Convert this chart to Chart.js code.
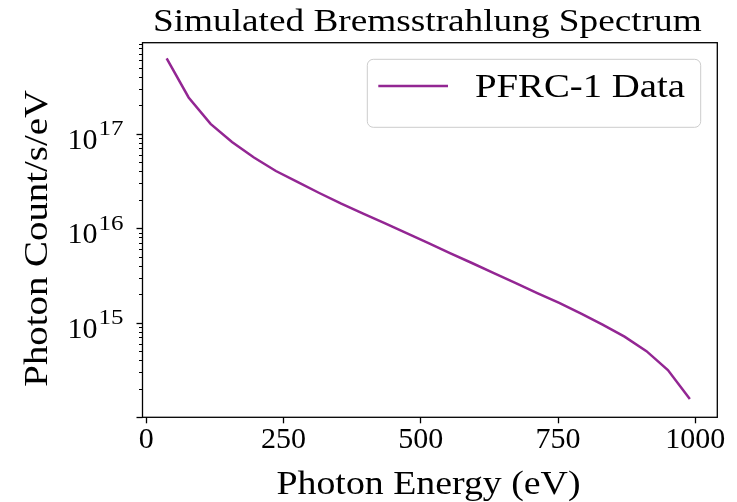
<!DOCTYPE html>
<html><head><meta charset="utf-8">
<script src="https://cdn.jsdelivr.net/npm/chart.js@4.4.0/dist/chart.umd.min.js"></script>
<style>html,body{margin:0;padding:0;background:#fff;overflow:hidden}#wrap{width:737px;height:502px}</style>
</head><body><div id="wrap"><canvas id="c" width="737" height="502"></canvas></div>
<script>
// ---- data ----
const energies = [37,77,117,156,196,236,276,315,355,395,434,474,514,553,593,633,673,712,752,792,831,871,911,950,990];
const counts = [6.28e17,2.42e17,1.27e17,8.17e16,5.60e16,4.03e16,3.08e16,2.36e16,1.82e16,1.43e16,1.13e16,8.89e15,6.97e15,5.47e15,4.29e15,3.36e15,2.63e15,2.06e15,1.62e15,1.25e15,9.57e14,7.14e14,5.01e14,3.16e14,1.56e14];
const xTickValues = [0,250,500,750,1000];
const yMajorExponents = [15,16,17];
const seriesLabel = 'PFRC-1 Data';
const titleText = 'Simulated Bremsstrahlung Spectrum';
const xAxisLabel = 'Photon Energy (eV)';
const yAxisLabel = 'Photon Count/s/eV';

const FONT = "'Liberation Serif', 'Times New Roman', serif";
const LINE_COLOR = 'rgba(128,0,128,0.85)';
const X_MIN = -7, X_MAX = 1040, Y_MIN = 1e14, Y_MAX = 9.18e17;

function drawText(ctx, text, opt) {
  ctx.save();
  ctx.font = opt.size + 'px ' + FONT;
  ctx.fillStyle = '#000';
  ctx.textBaseline = 'alphabetic';
  ctx.textAlign = 'left';
  const w = ctx.measureText(text).width;
  const sx = opt.width ? opt.width / w : 1;
  const drawnW = w * sx;
  ctx.translate(opt.x, opt.y);
  if (opt.rotate) ctx.rotate(opt.rotate);
  let x0 = 0;
  if (opt.align === 'center') x0 = -drawnW / 2;
  else if (opt.align === 'right') x0 = -drawnW;
  ctx.scale(sx, 1);
  ctx.fillText(text, x0 / sx, 0);
  ctx.restore();
  return drawnW;
}

const decor = {
  id: 'decor',
  afterDraw(chart) {
    const ctx = chart.ctx;
    const a = chart.chartArea;
    const ys = chart.scales.y;
    // y ticks (major / minor)
    ctx.save();
    ctx.strokeStyle = '#000';
    ys.ticks.forEach(t => {
      const py = Math.round(ys.getPixelForValue(t.value)) + 0.5;
      const major = t.major;
      ctx.lineWidth = major ? 1.3 : 1;
      ctx.beginPath();
      ctx.moveTo(a.left, py);
      ctx.lineTo(a.left - (major ? 6 : 3.5), py);
      ctx.stroke();
    });
    // spines
    ctx.lineWidth = 1.3;
    ctx.strokeRect(a.left, a.top, a.right - a.left, a.bottom - a.top);
    ctx.restore();
    // y tick labels 10^n
    yMajorExponents.forEach(e => {
      const py = ys.getPixelForValue(Math.pow(10, e));
      drawText(ctx, '10', {size: 30, x: 97.5, y: py + 15, align: 'right'});
      drawText(ctx, String(e), {size: 21, x: 98.5, y: py + 1.7, align: 'left', width: 25});
    });
    // title & axis labels
    drawText(ctx, titleText, {size: 32, x: (153 + 701.7) / 2, y: 30.7, align: 'center', width: 548.7});
    drawText(ctx, xAxisLabel, {size: 33, x: 428.5, y: 494, align: 'center', width: 304});
    drawText(ctx, yAxisLabel, {size: 33, x: 46.7, y: (386.7 + 90) / 2, align: 'center', width: 296.7, rotate: -Math.PI / 2});
    // legend
    const lx = 367.3, ly = 59.3, lw = 700.7 - 367.3, lh = 127.3 - 59.3, r = 6;
    ctx.save();
    ctx.beginPath();
    ctx.roundRect(lx, ly, lw, lh, r);
    ctx.fillStyle = 'rgba(255,255,255,0.8)';
    ctx.fill();
    ctx.strokeStyle = '#cccccc';
    ctx.lineWidth = 1;
    ctx.stroke();
    const ds = chart.data.datasets[0];
    ctx.strokeStyle = ds.borderColor;
    ctx.lineWidth = ds.borderWidth;
    ctx.beginPath();
    ctx.moveTo(378.3, 86);
    ctx.lineTo(448, 86);
    ctx.stroke();
    ctx.restore();
    drawText(ctx, ds.label, {size: 33, x: 475, y: 97, align: 'left', width: 210});
  }
};

new Chart(document.getElementById('c').getContext('2d'), {
  type: 'line',
  data: {
    datasets: [{
      label: seriesLabel,
      data: energies.map((e, i) => ({x: e, y: counts[i]})),
      borderColor: LINE_COLOR,
      borderWidth: 2.5,
      pointRadius: 0,
      tension: 0,
      fill: false
    }]
  },
  options: {
    responsive: false,
    animation: false,
    devicePixelRatio: 1,
    layout: {padding: {left: 0, right: 19.7, top: 42.7, bottom: 0}},
    plugins: {legend: {display: false}, tooltip: {enabled: false}, title: {display: false}},
    scales: {
      x: {
        type: 'linear', min: X_MIN, max: X_MAX,
        afterBuildTicks(s) { s.ticks = xTickValues.map(v => ({value: v})); },
        afterFit(s) { s.height = 502 - 417.3; },
        ticks: {font: {family: FONT, size: 30, lineHeight: 1.15}, color: '#000', padding: 0, maxRotation: 0, autoSkip: false,
                callback: v => String(v)},
        grid: {display: true, drawOnChartArea: false, drawTicks: true, tickLength: 6, tickWidth: 1.3, tickColor: '#000', color: '#000'},
        border: {display: false}
      },
      y: {
        type: 'logarithmic', min: Y_MIN, max: Y_MAX,
        afterBuildTicks(s) {
          const t = [];
          for (let e = 14; e <= 17; e++) for (let m = 1; m <= 9; m++) {
            const v = m * Math.pow(10, e);
            if (v >= Y_MIN && v <= Y_MAX) t.push({value: v, major: m === 1});
          }
          s.ticks = t;
        },
        afterFit(s) { s.width = 142.5; },
        ticks: {display: false},
        grid: {display: false},
        border: {display: false}
      }
    }
  },
  plugins: [decor]
});
</script>
</body></html>
